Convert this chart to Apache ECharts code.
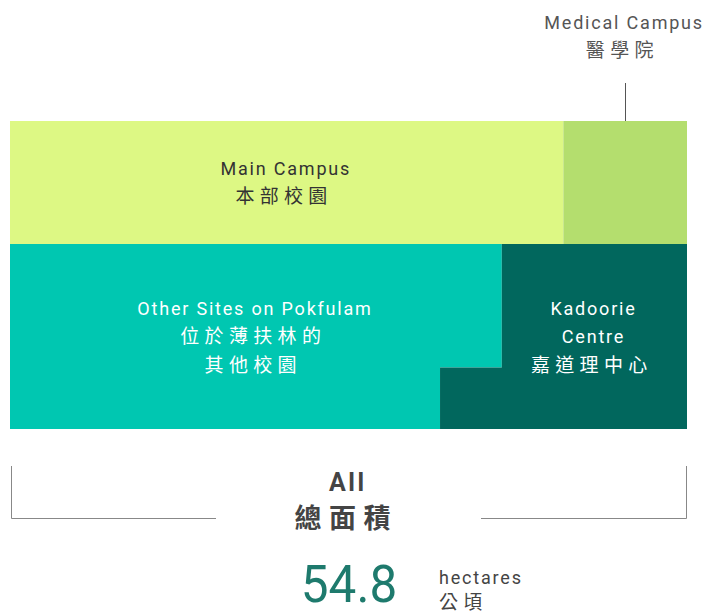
<!DOCTYPE html>
<html><head><meta charset="utf-8">
<script src="https://cdn.jsdelivr.net/npm/echarts@6/dist/echarts.min.js"></script>
<style>html,body{margin:0;padding:0;background:#fff}#c{width:709px;height:614px}</style>
</head><body><div id="c"></div>
<script>
// Data (hectares)
const categories = ['Main Campus\n本部校園', 'Medical Campus\n醫學院', 'Other Sites on Pokfulam\n位於薄扶林的\n其他校園', 'Kadoorie\nCentre\n嘉道理中心'];
const areas = [17.9, 4.0, 22.9, 10.0];
const totalLabel = '54.8';
const colors = ['#DDF884', '#B4DE6E', '#00C7B1', '#01675D'];

const FONT = 'Roboto, "Noto Sans CJK TC", sans-serif';
const CJK = /[\u3400-\u9fff]/;
const total = areas.reduce((a, b) => a + b, 0);
const H = 5;               // layout height in area units
const W = total / H;       // layout width
const stepSide = 1;        // small square notch of Kadoorie Centre
const topH = (areas[0] + areas[1]) / W;
const botH = H - topH;
const mainW = areas[0] / topH;
const kadW = (areas[3] - stepSide * stepSide) / botH;
const kx = W - kadW;
const shapes = [
  [[0, H], [mainW, H], [mainW, botH], [0, botH]],
  [[mainW, H], [W, H], [W, botH], [mainW, botH]],
  [[0, botH], [kx, botH], [kx, stepSide], [kx - stepSide, stepSide], [kx - stepSide, 0], [0, 0]],
  [[kx, botH], [W, botH], [W, 0], [kx - stepSide, 0], [kx - stepSide, stepSide], [kx, stepSide]]
];
const labelPos = [[mainW / 2, botH + topH / 2], null, [kx / 2, botH / 2], [(kx + W) / 2, botH / 2]];
const labelColor = ['#333', null, '#fff', '#fff'];

function richLabel(txt) {
  return txt.split('\n').map(l => CJK.test(l) ? '{zh|' + l + '}' : '{en|' + l + '}').join('\n');
}
function richStyles(color, lh) {
  return {
    en: { fontSize: 18, fontFamily: FONT, color: color, lineHeight: lh },
    zh: { fontSize: 19, fontFamily: FONT, color: color, lineHeight: lh }
  };
}

const chart = echarts.init(document.getElementById('c'), null, { renderer: 'svg' });
chart.setOption({
  animation: false,
  grid: { left: 10, right: 22, top: 121, bottom: 185 },
  xAxis: { type: 'value', min: 0, max: W, show: false },
  yAxis: { type: 'value', min: 0, max: H, show: false },
  series: [{
    type: 'custom',
    data: areas.map((v, i) => [i, v]),
    renderItem: function (params, api) {
      const i = params.dataIndex;
      const pts = shapes[i].map(p => api.coord(p));
      const children = [{
        type: 'polygon', shape: { points: pts },
        style: { fill: colors[i], stroke: null }
      }];
      if (labelPos[i]) {
        const c = api.coord(labelPos[i]);
        children.push({
          type: 'text', x: c[0], y: c[1],
          style: { text: richLabel(categories[i]), rich: richStyles(labelColor[i], 28.5),
                   fill: labelColor[i], align: 'center', verticalAlign: 'middle' }
        });
      }
      return { type: 'group', children: children };
    }
  }],
  graphic: [
    { type: 'text', x: 625, y: 36, style: { text: richLabel(categories[1]), rich: richStyles('#555', 28), fill: '#555', align: 'center', verticalAlign: 'middle' } },
    { type: 'line', shape: { x1: 625.5, y1: 83, x2: 625.5, y2: 176 }, style: { stroke: '#555', lineWidth: 1 } },
    { type: 'polyline', shape: { points: [[11.5, 466], [11.5, 518.5], [216, 518.5]] }, style: { stroke: '#888', lineWidth: 1, fill: null } },
    { type: 'polyline', shape: { points: [[481, 518.5], [686.5, 518.5], [686.5, 466]] }, style: { stroke: '#888', lineWidth: 1, fill: null } },
    { type: 'text', x: 349, y: 482, style: { text: 'All', fill: '#444', font: 'bold 25px ' + FONT, align: 'center', verticalAlign: 'middle' } },
    { type: 'text', x: 350, y: 519, style: { text: '總面積', fill: '#444', font: 'bold 27px ' + FONT, align: 'center', verticalAlign: 'middle' } },
    { type: 'text', x: 349, y: 584, scaleX: 0.97, style: { text: totalLabel, fill: '#1E7A6D', font: '51px ' + FONT, align: 'center', verticalAlign: 'middle' } },
    { type: 'text', x: 439, y: 577, style: { text: 'hectares', fill: '#444', font: '18px ' + FONT, align: 'left', verticalAlign: 'middle' } },
    { type: 'text', x: 439, y: 602, style: { text: '公頃', fill: '#444', font: '19px ' + FONT, align: 'left', verticalAlign: 'middle' } }
  ]
});

// letter spacing like the original typography
function spaceText() {
  document.querySelectorAll('#c svg text').forEach(el => {
    const t = el.textContent;
    if (t === totalLabel) return;
    const fs = parseFloat(getComputedStyle(el).fontSize) || 18;
    const ls = CJK.test(t) ? fs * 0.28 : fs * 0.1;
    el.style.letterSpacing = ls + 'px';
    const anchor = el.getAttribute('text-anchor') || getComputedStyle(el).textAnchor;
    if (anchor === 'middle') el.setAttribute('dx', (-ls / 2).toFixed(2));
  });
}
chart.on('finished', spaceText);
spaceText();
setTimeout(spaceText, 0);
</script></body></html>
